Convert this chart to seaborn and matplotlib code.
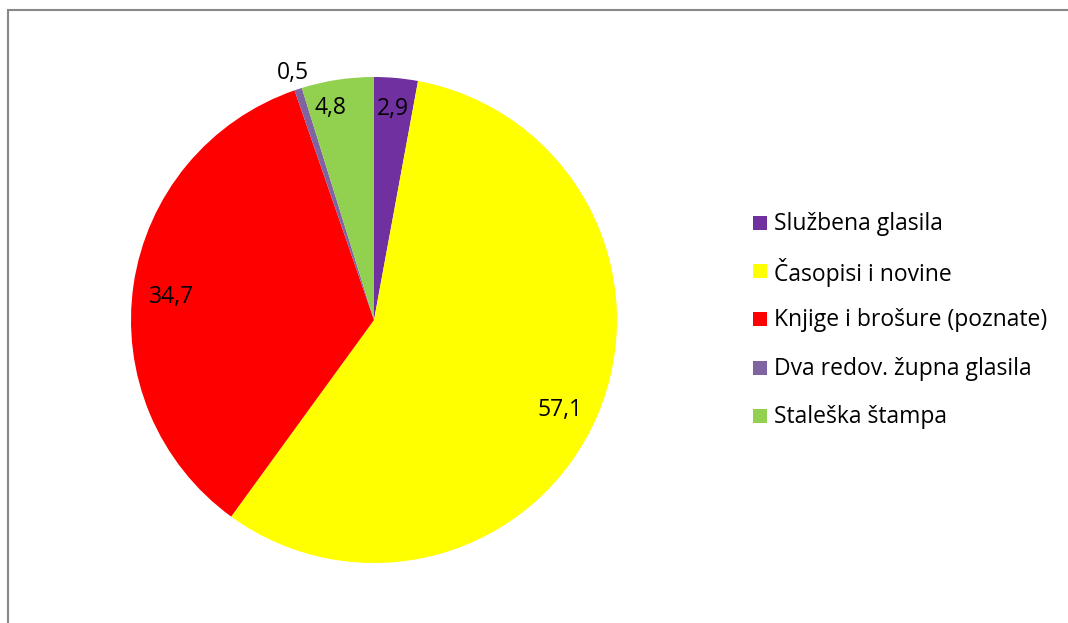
import numpy as np
import matplotlib
matplotlib.use("Agg")
import matplotlib.pyplot as plt
import seaborn as sns
from matplotlib.patches import Rectangle

categories = ["Službena glasila", "Časopisi i novine", "Knjige i brošure (poznate)",
              "Dva redov. župna glasila", "Staleška štampa"]
values = [2.9, 57.1, 34.7, 0.5, 4.8]
value_labels = ["2,9", "57,1", "34,7", "0,5", "4,8"]
colors = ["#7030A0", "#FFFF00", "#FF0000", "#8064A2", "#92D050"]

sns.set_theme(style="white")
plt.rcParams['font.family'] = ['Open Sans', 'DejaVu Sans']
plt.rcParams['text.color'] = 'black'
palette = sns.color_palette(colors)

W, H = 1068, 623
fig = plt.figure(figsize=(W / 100, H / 100), dpi=100)
ax = fig.add_axes([0, 0, 1, 1])

cx, cy, r = 374, H - 320, 243
wedges, _ = ax.pie(values, colors=palette, startangle=90, counterclock=False,
                   center=(cx, cy), radius=r, frame=True,
                   wedgeprops=dict(linewidth=0))
ax.set_xlim(0, W)
ax.set_ylim(0, H)
ax.set_aspect("equal")
ax.axis("off")

# data label distances (fraction of radius) and small angle shifts
dist = [0.87, 0.85, 0.84, 1.07, 0.89]
shift = [0, -2.5, 2.0, 0, 3.0]
for w, lab, d, s in zip(wedges, value_labels, dist, shift):
    mid = np.deg2rad((w.theta1 + w.theta2) / 2 + s)
    ax.text(cx + d * r * np.cos(mid), cy + d * r * np.sin(mid), lab,
            ha="center", va="center", fontsize=16.5, color="black")

# border
ax.add_patch(Rectangle((8, -5), W + 10, H - 10 + 5, fill=False,
                       edgecolor="#888888", linewidth=1.5))

# legend, rows spaced like the original
for i, (name, c) in enumerate(zip(categories, palette)):
    y = H - (223 + 48.2 * i)
    ax.add_patch(Rectangle((753, y - 7), 14, 14, facecolor=c, edgecolor="none"))
    ax.text(774, y - 1, name, ha="left", va="center", fontsize=16.5, color="black")

fig.savefig("out.png", dpi=100)
